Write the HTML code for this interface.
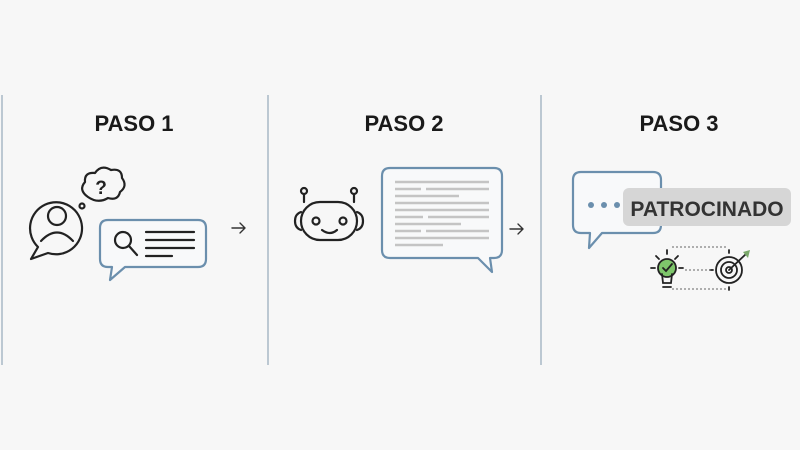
<!DOCTYPE html>
<html><head><meta charset="utf-8"><style>
html,body{margin:0;padding:0;background:#f7f7f7;}
svg{display:block;font-family:"Liberation Sans",sans-serif;}
</style></head><body>
<svg width="800" height="450" viewBox="0 0 800 450" xmlns="http://www.w3.org/2000/svg">
<rect width="800" height="450" fill="#f7f7f7"/>
<g stroke="#a9b8c6" stroke-width="1.5">
<line x1="2" y1="95" x2="2" y2="365"/>
<line x1="268" y1="95" x2="268" y2="365"/>
<line x1="541" y1="95" x2="541" y2="365"/>
</g>
<g font-weight="bold" font-size="22" fill="#1a1a1a" text-anchor="middle">
<text x="134" y="131">PASO 1</text>
<text x="404" y="131">PASO 2</text>
<text x="679" y="131">PASO 3</text>
</g>
<!-- Step 1 -->
<g fill="none" stroke="#222" stroke-width="2.2" stroke-linecap="round" stroke-linejoin="round">
<path d="M38,247 A26,26 0 1 1 48,253 L31,259 Z"/>
<circle cx="57" cy="216" r="9"/>
<path d="M41,241 Q57,224 73,241"/>
<circle cx="82" cy="206" r="2.5"/>
<path d="M88,197 Q78,190 85,182 Q84,172 95,173 Q101,164 111,170 Q122,168 122,178 Q128,186 120,192 Q118,201 108,198 Q98,204 88,197 Z"/>
</g>
<text x="101" y="194" font-size="19" font-weight="bold" fill="#222" text-anchor="middle">?</text>
<path d="M108,220 H198 Q206,220 206,228 V259 Q206,267 198,267 H125 L110,280 L112,267 H108 Q100,267 100,259 V228 Q100,220 108,220 Z" fill="#f8f9fa" stroke="#6b8fad" stroke-width="2.2" stroke-linejoin="round"/>
<g fill="none" stroke="#222" stroke-width="2.2" stroke-linecap="round">
<circle cx="123" cy="240" r="8"/>
<line x1="129" y1="246" x2="137" y2="255"/>
<line x1="146" y1="232" x2="194" y2="232"/>
<line x1="146" y1="240" x2="194" y2="240"/>
<line x1="146" y1="248" x2="194" y2="248"/>
<line x1="146" y1="256" x2="172" y2="256"/>
</g>
<g fill="none" stroke="#333" stroke-width="1.4" stroke-linecap="round" stroke-linejoin="round">
<path d="M232,228 H245 M240,223 L245,228 L240,233"/>
<path d="M510,229 H523 M518,224 L523,229 L518,234"/>
</g>
<!-- Step 2 -->
<g fill="none" stroke="#222" stroke-width="2.2" stroke-linecap="round">
<rect x="301" y="202" width="56" height="38" rx="19"/>
<path d="M301,212 Q295,214 295,221 Q295,228 301,230"/>
<path d="M357,212 Q363,214 363,221 Q363,228 357,230"/>
<line x1="304" y1="202" x2="304" y2="194"/>
<line x1="354" y1="202" x2="354" y2="194"/>
<circle cx="304" cy="191" r="3"/>
<circle cx="354" cy="191" r="3"/>
<circle cx="316" cy="221" r="3.5"/>
<circle cx="343" cy="221" r="3.5"/>
<path d="M322,230 Q330,236 337,230"/>
</g>
<path d="M390,168 H494 Q502,168 502,176 V250 Q502,258 494,258 H490 L492,272 L478,258 H390 Q382,258 382,250 V176 Q382,168 390,168 Z" fill="#f8f9fa" stroke="#6b8fad" stroke-width="2.2" stroke-linejoin="round"/>
<g stroke="#c4c4c4" stroke-width="2.5">
<line x1="395" y1="182" x2="489" y2="182"/>
<line x1="395" y1="189" x2="421" y2="189"/><line x1="426" y1="189" x2="489" y2="189"/>
<line x1="395" y1="196" x2="459" y2="196"/>
<line x1="395" y1="203" x2="489" y2="203"/>
<line x1="395" y1="210" x2="489" y2="210"/>
<line x1="395" y1="217" x2="423" y2="217"/><line x1="428" y1="217" x2="489" y2="217"/>
<line x1="395" y1="224" x2="461" y2="224"/>
<line x1="395" y1="231" x2="421" y2="231"/><line x1="426" y1="231" x2="489" y2="231"/>
<line x1="395" y1="238" x2="489" y2="238"/>
<line x1="395" y1="245" x2="443" y2="245"/>
</g>
<!-- Step 3 -->
<path d="M581,172 H653 Q661,172 661,180 V225 Q661,233 653,233 H602 L589,248 L590,233 H581 Q573,233 573,225 V180 Q573,172 581,172 Z" fill="#f8f9fa" stroke="#6b8fad" stroke-width="2.2" stroke-linejoin="round"/>
<g fill="#6b8fad"><circle cx="591" cy="205" r="3"/><circle cx="604" cy="205" r="3"/><circle cx="617" cy="205" r="3"/></g>
<rect x="623" y="188" width="168" height="38" rx="6" fill="#d6d6d6"/>
<text x="707" y="216" font-size="21" font-weight="bold" fill="#333" text-anchor="middle">PATROCINADO</text>
<g fill="none" stroke="#222" stroke-width="1.8" stroke-linecap="round">
<circle cx="667" cy="268" r="9" fill="#7ec66b"/>
<path d="M662,274 L663,283 H671 L672,274"/>
<line x1="663" y1="287" x2="671" y2="287"/>
<path d="M663,268 L666,271 L672,264"/>
<line x1="651" y1="268" x2="655" y2="268"/><line x1="679" y1="268" x2="683" y2="268"/>
<line x1="656" y1="256" x2="659" y2="259"/><line x1="678" y1="256" x2="675" y2="259"/>
<line x1="667" y1="250" x2="667" y2="254"/>
<circle cx="729" cy="270" r="13"/><circle cx="729" cy="270" r="8"/><circle cx="729" cy="270" r="3"/>
<line x1="729" y1="270" x2="746" y2="254"/>
<line x1="729" y1="253" x2="729" y2="250"/><line x1="729" y1="287" x2="729" y2="290"/>
<line x1="713" y1="270" x2="710" y2="270"/>
</g>
<path d="M743,252 L750,250 L748,258 Z" fill="#7aa86a"/>
<g stroke="#666" stroke-width="1" stroke-dasharray="2,2" fill="none">
<line x1="672" y1="247" x2="726" y2="247"/>
<line x1="685" y1="270" x2="713" y2="270"/>
<line x1="672" y1="289" x2="726" y2="289"/>
</g>
</svg>
</body></html>
